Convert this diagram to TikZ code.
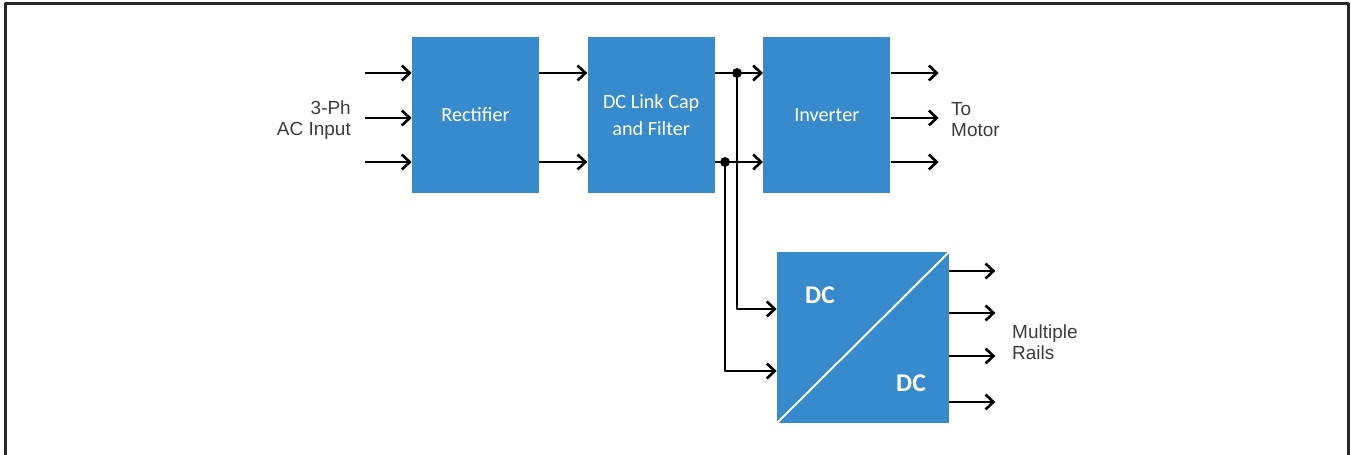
\documentclass[tikz,border=0pt]{standalone}
\usepackage{fontspec}
\newfontfamily\blkfont{Carlito}
\newfontfamily\labfont{Liberation Sans}
\usepackage{xcolor}
\usetikzlibrary{positioning,arrows.meta}

\definecolor{blkblue}{RGB}{55,138,203}
\definecolor{labgrey}{RGB}{60,60,60}

\tikzset{
	blk/.style={fill=blkblue, draw=none, minimum width=2.54cm, minimum height=3.12cm,
		inner sep=0pt, text=white, font=\blkfont\fontsize{11.5}{15}\selectfont, align=center},
	dctxt/.style={text=white, font=\blkfont\bfseries\fontsize{14.5}{16}\selectfont},
	lab/.style={text=labgrey, font=\labfont\fontsize{10.8}{11.9}\selectfont},
	arr/.style={black, line width=1.5pt, -{Straight Barb[length=4.5pt,width=8.5pt,line width=1.5pt]}},
	frame/.style={draw=black!85, line width=1.7pt}
}

\begin{document}
\begin{tikzpicture}[
				x=0.02cm,y=-0.02cm,
				line join=round
				]
				% ---- parameters
				\def\yA{73}
				\def\yB{118}
				\def\yC{162}
				\def\gap{0.96cm}
				
				% page and frame
				\useasboundingbox (0,0) rectangle (1351,455);
				\draw[frame] (5.5,462) -- (5.5,3.5) -- (1348.5,3.5) -- (1348.5,462);
				
				% blocks
				\node[blk] (rect) at (475.5,115) {Rectifier};
				\node[blk, right=\gap of rect] (link) {DC Link Cap\\and Filter};
				\node[blk, right=\gap of link] (inv) {Inverter};
				\node[blk, minimum width=3.44cm, minimum height=3.42cm] (dcdc) at (863,337.5) {};
				\draw[white, line width=1.1pt] (dcdc.south west) -- (dcdc.north east);
				\node[dctxt] (dcin) at (820,295) {DC};
				\node[dctxt] (dcout) at (911,383) {DC};
				
				% three phase in and out
				\foreach \y [count=\i] in {\yA,\yB,\yC}{
					\coordinate (in\i) at (365,\y);
					\draw[arr] (in\i) -- (in\i -| rect.west);
					\draw[arr] (inv.east |- in\i) -- ++(48,0) coordinate (mot\i);
				}
				
				% dc bus
				\foreach \i in {1,3}{
					\draw[arr] (rect.east |- in\i) -- (link.west |- in\i);
					\draw[arr] (link.east |- in\i) -- (inv.west |- in\i);
				}
				\coordinate (j1) at (737,\yA);
				\coordinate (j2) at (725,\yC);
				\fill (j1) circle (2.8pt);
				\fill (j2) circle (2.8pt);
				\draw[arr] (j1) |- (dcdc.west |- 0,309);
				\draw[arr] (j2) |- (dcdc.west |- 0,371);
				
				% rails
				\foreach \y [count=\i] in {271,313,356,402}{
					\draw[arr] (dcdc.east |- 0,\y) -- ++(46,0) coordinate (rail\i);
				}
				
				% labels
				\node[lab, anchor=east, align=right] (acin) at (357,120) {3-Ph\\AC Input};
				\node[lab, anchor=west, align=left] (motor) at (945,120) {To\\Motor};
				\node[lab, anchor=west, align=left] (rails) at (1006,342) {Multiple\\Rails};
			\end{tikzpicture}
\end{document}
